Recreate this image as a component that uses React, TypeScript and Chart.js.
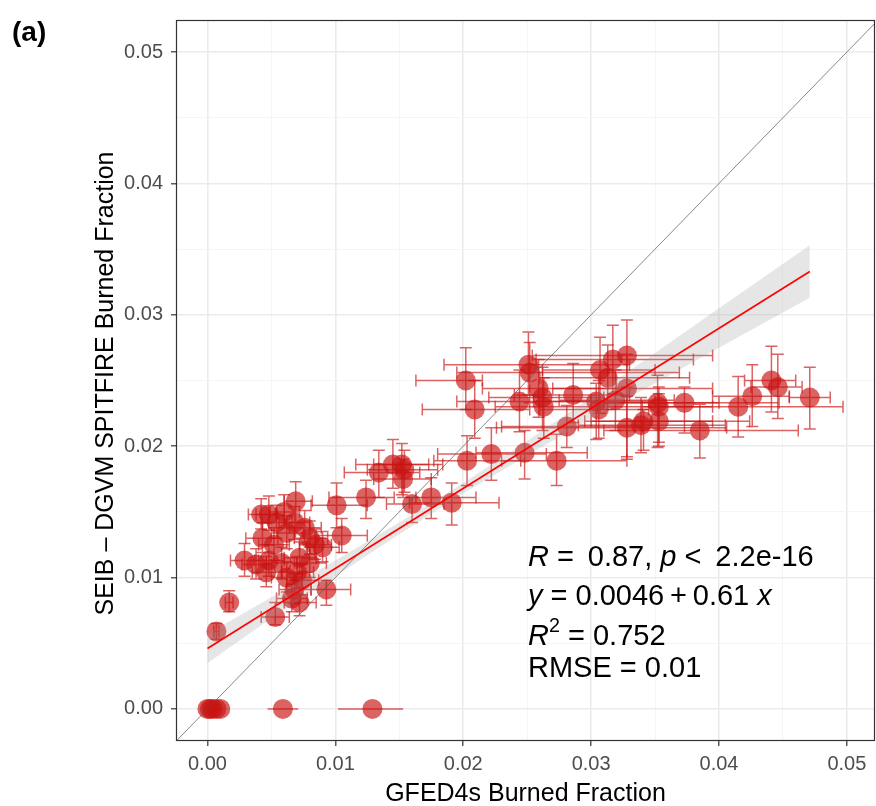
import React, { useEffect, useRef } from "react";
import { Chart, registerables } from "chart.js";

Chart.register(...registerables);

const FONT = "'Liberation Sans', Arial, Helvetica, sans-serif";

// GFED4s (x) and SEIB-DGVM (y) burned fraction, with error bar ranges
const gfedBF = [
  0.0202, 0.0209, 0.0251, 0.0252, 0.0259, 0.0262, 0.0263, 0.0244, 0.0286, 0.0304,
  0.0306, 0.0307, 0.0313, 0.0317, 0.0328, 0.0328, 0.0319, 0.0352, 0.0353, 0.0373,
  0.0415, 0.0426, 0.0441, 0.0446, 0.0471, 0.0385, 0.0328, 0.0339, 0.0341, 0.0353,
  0.0281, 0.0273, 0.0248, 0.0222, 0.0203, 0.0191, 0.0175, 0.016, 0.0124, 0.0101,
  0.0134, 0.0145, 0.0152, 0.0154, 0.0153, 0.0105, 0.0069, 0.0048, 0.0054, 0.0068,
  0.0043, 0.0062, 0.008, 0.009, 0.0029, 0.0038, 0.0048, 0.0058, 0.0072, 0.008,
  0.0046, 0.0062, 0.007, 0.0074, 0.0068, 0.0093, 0.0066, 0.0072, 0.0017, 0.0053,
  0.0007, 0.0042, 0.006, 0.0076, 0.0084, 0.0052, 0.0, 0.0002, 0.0004, 0.0007,
  0.001, 0.0059, 0.0129,
];
const seibBF = [
  0.025, 0.0228, 0.0262, 0.0256, 0.0244, 0.0237, 0.023, 0.0234, 0.0239, 0.0234,
  0.0228, 0.0258, 0.0252, 0.0266, 0.0269, 0.0244, 0.0235, 0.0233, 0.023, 0.0233,
  0.023, 0.0238, 0.025, 0.0245, 0.0237, 0.0212, 0.0214, 0.0216, 0.0219, 0.0219,
  0.0215, 0.0189, 0.0195, 0.0194, 0.0189, 0.0157, 0.0161, 0.0156, 0.0161, 0.0155,
  0.018, 0.0186, 0.0186, 0.0182, 0.0175, 0.0132, 0.0158, 0.0148, 0.0142, 0.0142,
  0.013, 0.0134, 0.013, 0.0123, 0.0113, 0.011, 0.0113, 0.0111, 0.0115, 0.0111,
  0.0104, 0.01, 0.0104, 0.0098, 0.0091, 0.0091, 0.0084, 0.0081, 0.0081, 0.007,
  0.0059, 0.0148, 0.015, 0.0138, 0.0125, 0.0125, 0, 0, 0, 0,
  0, 0, 0,
];
const gfedLo = [
  0.0163, 0.0168, 0.0185, 0.0195, 0.0215, 0.022, 0.0225, 0.0195, 0.024, 0.0255,
  0.026, 0.0262, 0.026, 0.0257, 0.0254, 0.027, 0.0275, 0.03, 0.0305, 0.031,
  0.034, 0.0395, 0.042, 0.0425, 0.0455, 0.031, 0.0226, 0.029, 0.0295, 0.03,
  0.023, 0.023, 0.021, 0.018, 0.0177, 0.0158, 0.0163, 0.014, 0.0095, 0.0081,
  0.0107, 0.0116, 0.013, 0.0125, 0.013, 0.0085, 0.006, 0.0038, 0.0043, 0.0056,
  0.003, 0.005, 0.0068, 0.0078, 0.0018, 0.0027, 0.0037, 0.0046, 0.006, 0.0068,
  0.0035, 0.005, 0.0058, 0.0062, 0.0056, 0.0081, 0.0054, 0.006, 0.0014, 0.0042,
  0.0005, 0.0032, 0.0049, 0.0064, 0.0072, 0.004, 0, 0.0001, 0.0002, 0.0005,
  0.0008, 0.0047, 0.0102,
];
const gfedHi = [
  0.0215, 0.0252, 0.033, 0.0369, 0.032, 0.031, 0.0305, 0.03, 0.033, 0.035,
  0.0345, 0.035, 0.0377, 0.038, 0.0395, 0.0395, 0.0365, 0.04, 0.0395, 0.0447,
  0.0497, 0.0455, 0.046, 0.0465, 0.0487, 0.0462, 0.0406, 0.0405, 0.0395, 0.0424,
  0.034, 0.0328, 0.0297, 0.0265, 0.0245, 0.0228, 0.021, 0.0185, 0.0146, 0.0125,
  0.0166, 0.0173, 0.0184, 0.018, 0.0175, 0.0125, 0.0082, 0.006, 0.0066, 0.008,
  0.0055, 0.0075, 0.0094, 0.0103, 0.004, 0.005, 0.006, 0.007, 0.0085, 0.0093,
  0.0058, 0.0074, 0.0083, 0.0087, 0.0081, 0.0112, 0.0078, 0.0085, 0.002, 0.0064,
  0.0009, 0.0054, 0.0072, 0.0089, 0.0097, 0.0064, 0, 0.0003, 0.0006, 0.0009,
  0.0012, 0.0071, 0.0153,
];
const seibLo = [
  0.0228, 0.0206, 0.0239, 0.0233, 0.0222, 0.0212, 0.0206, 0.0211, 0.0218, 0.0205,
  0.0206, 0.0225, 0.0228, 0.024, 0.0245, 0.0192, 0.0212, 0.0199, 0.0203, 0.021,
  0.0207, 0.0215, 0.0226, 0.0221, 0.0213, 0.0191, 0.019, 0.0195, 0.0197, 0.02,
  0.0199, 0.017, 0.0175, 0.0174, 0.017, 0.014, 0.0145, 0.0142, 0.0145, 0.0138,
  0.0161, 0.0168, 0.0163, 0.0165, 0.0161, 0.0119, 0.0142, 0.0136, 0.013, 0.0129,
  0.0119, 0.0122, 0.0118, 0.0112, 0.0101, 0.0099, 0.0101, 0.0099, 0.0103, 0.01,
  0.0093, 0.0089, 0.0092, 0.0087, 0.008, 0.0079, 0.0074, 0.0071, 0.0074, 0.0064,
  0.0053, 0.0137, 0.0138, 0.0126, 0.0114, 0.0113, 0, 0, 0, 0,
  0, 0, 0,
];
const seibHi = [
  0.0275, 0.025, 0.0287, 0.0279, 0.0266, 0.026, 0.0252, 0.0258, 0.0263, 0.0248,
  0.025, 0.0283, 0.0277, 0.0292, 0.0296, 0.027, 0.0258, 0.0254, 0.0245, 0.0245,
  0.0253, 0.0262, 0.0276, 0.027, 0.026, 0.0232, 0.0238, 0.0237, 0.0228, 0.024,
  0.0231, 0.0209, 0.0212, 0.0214, 0.0208, 0.0172, 0.0176, 0.0161, 0.0174, 0.0172,
  0.0197, 0.0205, 0.0202, 0.0197, 0.019, 0.0145, 0.0173, 0.0162, 0.0155, 0.0154,
  0.0142, 0.0147, 0.0143, 0.0135, 0.0126, 0.0122, 0.0125, 0.0123, 0.0127, 0.0123,
  0.0116, 0.0112, 0.0116, 0.011, 0.0103, 0.0098, 0.0095, 0.0092, 0.009, 0.0081,
  0.0065, 0.016, 0.0163, 0.0151, 0.0137, 0.0138, 0, 0, 0, 0,
  0, 0, 0,
];

// Regression fit line and its confidence band
const fitX = [0, 0.0471];
const fitY = [0.0046, 0.0333];
const bandX = [0, 0.005, 0.01, 0.015, 0.02, 0.025, 0.03, 0.035, 0.04, 0.0471];
const bandLo = [0.0035, 0.0069, 0.0101, 0.0133, 0.0164, 0.0193, 0.0221, 0.0248, 0.0275, 0.0313];
const bandHi = [0.0057, 0.0085, 0.0113, 0.0142, 0.0172, 0.0204, 0.0237, 0.0271, 0.0305, 0.0353];
// 1:1 reference line
const identityRange = [-0.003, 0.053];

const tickValues = [0, 0.005, 0.01, 0.015, 0.02, 0.025, 0.03, 0.035, 0.04, 0.045, 0.05];
const X_MIN = -0.00246;
const X_MAX = 0.0522;
const Y_MIN = -0.00244;
const Y_MAX = 0.05244;

const xTitle = "GFED4s Burned Fraction";
const yTitle = "SEIB \u2013 DGVM SPITFIRE Burned Fraction";
const panelLabel = "(a)";
const statLines = [
  [{ t: "R", i: true }, { t: " =\u2009 0.87, " }, { t: "p", i: true }, { t: " <\u2009 2.2e-16" }],
  [{ t: "y", i: true }, { t: " = 0.0046\u2009+\u20090.61 " }, { t: "x", i: true }],
  [{ t: "R", i: true }, { t: "2", sup: true }, { t: " = 0.752" }],
  [{ t: "RMSE = 0.01" }],
];

const POINT_COLOR = "rgba(200,20,18,0.66)";
const ERR_COLOR = "rgba(200,20,18,0.66)";

const isMajor = (v: number) => Math.abs(v * 100 - Math.round(v * 100)) < 1e-6;

const errorBarPlugin = {
  id: "errorBars",
  beforeDatasetsDraw(chart: any) {
    const { ctx, chartArea, scales } = chart;
    const xs = scales.x;
    const ys = scales.y;
    ctx.save();
    ctx.beginPath();
    ctx.rect(chartArea.left, chartArea.top, chartArea.width, chartArea.height);
    ctx.clip();
    ctx.strokeStyle = ERR_COLOR;
    ctx.lineWidth = 1.5;
    const cap = 6;
    for (let i = 0; i < gfedBF.length; i++) {
      const px = xs.getPixelForValue(gfedBF[i]);
      const py = ys.getPixelForValue(seibBF[i]);
      const hasY = seibHi[i] > seibLo[i];
      const hasX = gfedHi[i] > gfedLo[i];
      ctx.beginPath();
      if (hasY) {
        const y0 = ys.getPixelForValue(seibLo[i]);
        const y1 = ys.getPixelForValue(seibHi[i]);
        ctx.moveTo(px, y0); ctx.lineTo(px, y1);
        ctx.moveTo(px - cap, y0); ctx.lineTo(px + cap, y0);
        ctx.moveTo(px - cap, y1); ctx.lineTo(px + cap, y1);
      }
      if (hasX) {
        const x0 = xs.getPixelForValue(gfedLo[i]);
        const x1 = xs.getPixelForValue(gfedHi[i]);
        ctx.moveTo(x0, py); ctx.lineTo(x1, py);
        if (hasY) {
          ctx.moveTo(x0, py - cap); ctx.lineTo(x0, py + cap);
          ctx.moveTo(x1, py - cap); ctx.lineTo(x1, py + cap);
        }
      }
      ctx.stroke();
    }
    ctx.restore();
  },
};

const decorPlugin = {
  id: "decor",
  afterDatasetsDraw(chart: any) {
    const { ctx, chartArea } = chart;
    ctx.save();
    ctx.strokeStyle = "#333333";
    ctx.lineWidth = 1.2;
    ctx.strokeRect(chartArea.left + 0.5, chartArea.top + 0.5, chartArea.width - 1, chartArea.height - 1);

    // stats annotation
    ctx.fillStyle = "#000000";
    ctx.textAlign = "left";
    ctx.textBaseline = "alphabetic";
    const size = 29;
    const baselines = [566, 605, 645, 677];
    statLines.forEach((parts: any[], li) => {
      let cx = 528;
      for (const p of parts) {
        const fs = p.sup ? size * 0.68 : size;
        ctx.font = `${p.i ? "italic " : ""}${fs}px ${FONT}`;
        const dy = p.sup ? -size * 0.45 : 0;
        ctx.fillText(p.t, cx, baselines[li] + dy);
        cx += ctx.measureText(p.t).width;
      }
    });
    ctx.restore();
  },
  afterDraw(chart: any) {
    const { ctx, chartArea } = chart;
    ctx.save();
    ctx.fillStyle = "#000000";
    ctx.font = `25px ${FONT}`;
    ctx.textAlign = "center";
    ctx.textBaseline = "alphabetic";
    ctx.fillText(xTitle, (chartArea.left + chartArea.right) / 2, 801);
    ctx.save();
    ctx.translate(113, (chartArea.top + chartArea.bottom) / 2 + 3);
    ctx.rotate(-Math.PI / 2);
    ctx.fillText(yTitle, 0, 0);
    ctx.restore();
    ctx.font = `bold 28px ${FONT}`;
    ctx.textAlign = "left";
    ctx.fillText(panelLabel, 12, 41);
    ctx.restore();
  },
};

function axisOptions(min: number, max: number, isX: boolean) {
  return {
    type: "linear",
    min,
    max,
    afterBuildTicks: (s: any) => {
      s.ticks = tickValues.map((v) => ({ value: v }));
    },
    afterFit: (s: any) => {
      if (isX) s.height = 65;
      else s.width = 176;
      s.paddingLeft = 0;
      s.paddingRight = 0;
      s.paddingTop = 0;
      s.paddingBottom = 0;
    },
    ticks: {
      autoSkip: false,
      maxRotation: 0,
      padding: isX ? 6 : 8,
      color: "#4D4D4D",
      font: { family: FONT, size: 20 },
      callback: (v: number) => (isMajor(v) ? v.toFixed(2) : ""),
    },
    grid: {
      color: (c: any) => (c.tick && isMajor(c.tick.value) ? "#EBEBEB" : "#F3F3F3"),
      lineWidth: (c: any) => (c.tick && isMajor(c.tick.value) ? 1.6 : 0.8),
      tickColor: (c: any) => (c.tick && isMajor(c.tick.value) ? "#333333" : "rgba(0,0,0,0)"),
      tickLength: 5,
      tickWidth: 1.2,
      drawTicks: true,
    },
    border: { display: false },
  };
}

export default function App() {
  const canvasRef = useRef<HTMLCanvasElement | null>(null);

  useEffect(() => {
    document.body.style.margin = "0";
    const canvas = canvasRef.current;
    if (!canvas) return;

    const points = gfedBF.map((x, i) => ({ x, y: seibBF[i] }));
    const hi = bandX.map((x, i) => ({ x, y: bandHi[i] }));
    const lo = bandX.map((x, i) => ({ x, y: bandLo[i] }));
    const fit = fitX.map((x, i) => ({ x, y: fitY[i] }));
    const identity = identityRange.map((v) => ({ x: v, y: v }));

    const chart = new Chart(canvas, {
      type: "scatter",
      data: {
        datasets: [
          {
            label: "sites",
            data: points,
            pointRadius: 10,
            pointHoverRadius: 10,
            backgroundColor: POINT_COLOR,
            borderWidth: 0,
            order: 4,
          } as any,
          {
            type: "line",
            label: "band-hi",
            data: hi,
            pointRadius: 0,
            borderWidth: 0,
            borderColor: "rgba(0,0,0,0)",
            backgroundColor: "rgba(150,150,150,0.24)",
            fill: "+1",
            order: 3,
          } as any,
          {
            type: "line",
            label: "band-lo",
            data: lo,
            pointRadius: 0,
            borderWidth: 0,
            borderColor: "rgba(0,0,0,0)",
            fill: false,
            order: 3,
          } as any,
          {
            type: "line",
            label: "fit",
            data: fit,
            pointRadius: 0,
            borderWidth: 1.6,
            borderColor: "#FF0000",
            fill: false,
            order: 2,
          } as any,
          {
            type: "line",
            label: "1:1",
            data: identity,
            pointRadius: 0,
            borderWidth: 0.7,
            borderColor: "#555555",
            fill: false,
            order: 1,
          } as any,
        ],
      },
      options: {
        responsive: false,
        animation: false,
        events: [],
        layout: { autoPadding: false, padding: { top: 20, right: 1, left: 0, bottom: 0 } },
        plugins: {
          legend: { display: false },
          tooltip: { enabled: false },
          title: { display: false },
        },
        scales: {
          x: axisOptions(X_MIN, X_MAX, true) as any,
          y: axisOptions(Y_MIN, Y_MAX, false) as any,
        },
      },
      plugins: [errorBarPlugin, decorPlugin],
    });

    return () => chart.destroy();
  }, []);

  return (
    <div style={{ position: "relative", width: 876, height: 806, background: "#ffffff" }}>
      <canvas ref={canvasRef} width={876} height={806} style={{ display: "block", width: 876, height: 806 }} />
    </div>
  );
}
